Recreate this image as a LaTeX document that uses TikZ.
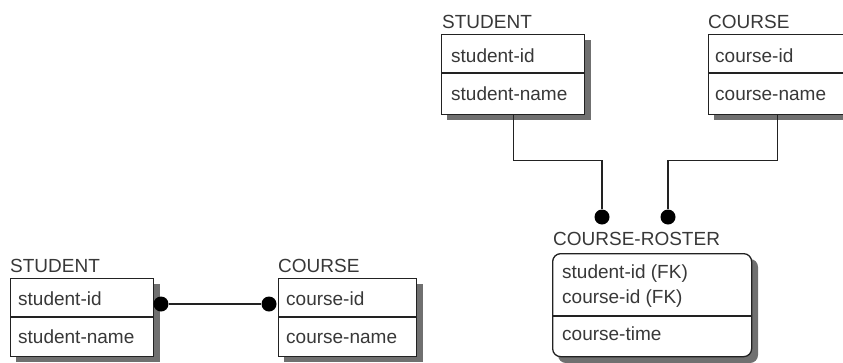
\documentclass[tikz,border=0pt]{standalone}
\usepackage{fontspec}
\setmainfont{Liberation Sans}
\definecolor{ink}{HTML}{222222}
\definecolor{txt}{HTML}{383838}
\definecolor{shd}{HTML}{707070}
\begin{document}
\begin{tikzpicture}[x=1pt,y=-1pt,
  entity/.style={draw=ink, line width=1.3pt, fill=white, inner sep=0pt, anchor=north west},
  shade band/.style={fill=shd},
  attr/.style={anchor=base west, inner sep=0pt, text=txt, font=\fontsize{19}{22}\selectfont},
  title/.style={anchor=base west, inner sep=0pt, text=txt, font=\fontsize{19}{22}\selectfont},
  dot/.style={circle, fill=black, inner sep=0pt, minimum size=15pt},
  conn/.style={draw=ink, line width=1.3pt}]
\useasboundingbox (0,0) rectangle (843,362);
% shadow plates behind the boxes
\fill[shade band] (16,284) rectangle (160,362);
\fill[shade band] (284,284) rectangle (423,362);
\fill[shade band] (447,40) rectangle (591,120);
\fill[shade band] (714,40) rectangle (853,120);
\fill[shade band, rounded corners=8pt] (558,259) rectangle (758,363);
% bottom-left STUDENT
\node[title] (lsT) at (10,272) {STUDENT};
\node[entity, minimum width=143pt, minimum height=78pt] (ls) at (10,278) {};
\draw[conn] (ls.west |- 0,317) -- (ls.east |- 0,317);
\node[attr] (ls1) at (18,305) {student-id};
\node[attr] (ls2) at (18,343) {student-name};
% bottom COURSE
\node[title] (lcT) at (278,272) {COURSE};
\node[entity, minimum width=138pt, minimum height=78pt] (lc) at (278,278) {};
\draw[conn] (lc.west |- 0,317) -- (lc.east |- 0,317);
\node[attr] (lc1) at (286,305) {course-id};
\node[attr] (lc2) at (286,343) {course-name};
% top STUDENT
\node[title] (tsT) at (442,28) {STUDENT};
\node[entity, minimum width=143pt, minimum height=80pt] (ts) at (441,34) {};
\draw[conn] (ts.west |- 0,73) -- (ts.east |- 0,73);
\node[attr] (ts1) at (451,62) {student-id};
\node[attr] (ts2) at (451,100) {student-name};
% top COURSE
\node[title] (tcT) at (708,28) {COURSE};
\node[entity, minimum width=138pt, minimum height=80pt] (tc) at (708,34) {};
\draw[conn] (tc.west |- 0,73) -- (tc.east |- 0,73);
\node[attr] (tc1) at (715,62) {course-id};
\node[attr] (tc2) at (715,100) {course-name};
% COURSE-ROSTER
\node[title] (crT) at (553,245) {COURSE-ROSTER};
\node[entity, rounded corners=8pt, minimum width=199pt, minimum height=103pt] (cr) at (552,253) {};
\draw[conn] (cr.west |- 0,316) -- (cr.east |- 0,316);
\node[attr] (cr1) at (562,278) {student-id (FK)};
\node[attr] (cr2) at (562,303) {course-id (FK)};
\node[attr] (cr3) at (562,340) {course-time};
% connectors
\node[dot] (d1) at (161,304) {};
\node[dot] (d2) at (269,304) {};
\draw[conn] (d1) -- (d2);
\node[dot] (d3) at (602,217) {};
\node[dot] (d4) at (668,217) {};
\draw[conn] (ts.south) -- ++(0,45) -| (d3);
\draw[conn] (tc.south) -- ++(0,45) -| (d4);
\end{tikzpicture}
\end{document}
